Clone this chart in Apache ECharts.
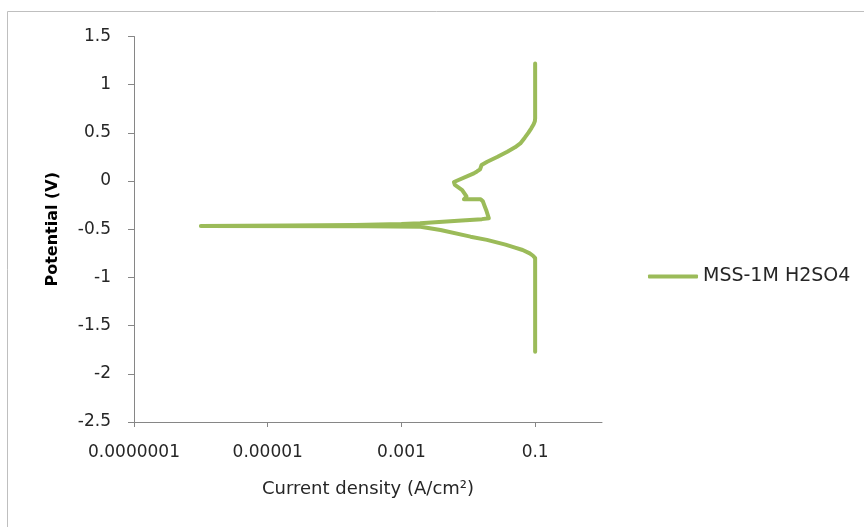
<!DOCTYPE html>
<html>
<head>
<meta charset="utf-8">
<style>
  html, body { margin: 0; padding: 0; background: #fff; }
  #chart { width: 864px; height: 527px; }
</style>
<script src="https://cdn.jsdelivr.net/npm/echarts@6/dist/echarts.min.js"></script>
</head>
<body>
<div id="chart"></div>
<script>
// polarization scan (potential in V, current in A/cm2)
const potential = [-1.77, -0.80, -0.79, -0.775, -0.75, -0.715, -0.69, -0.66, -0.61, -0.577,
  -0.508, -0.474, -0.470, -0.466, -0.462, -0.455, -0.446, -0.438, -0.41, -0.395,
  -0.386, -0.37, -0.30, -0.266, -0.21, -0.189, -0.189, -0.16, -0.145, -0.093,
  -0.04, -0.01, 0.01, 0.08, 0.10, 0.122, 0.135, 0.167, 0.201, 0.25,
  0.305, 0.35, 0.39, 0.45, 0.5, 0.55, 0.59, 0.62, 0.65, 1.22]
const current = [0.1, 0.1, 0.099, 0.093, 0.083, 0.065, 0.05, 0.036, 0.019, 0.0108,
  0.00384, 0.00193, 0.0003, 0.000001, 0.00002, 0.0002, 0.001, 0.0019, 0.008, 0.016,
  0.0203, 0.0203, 0.0185, 0.0177, 0.0165, 0.0153, 0.0086, 0.0094, 0.0091, 0.0081,
  0.0063, 0.0061, 0.0065, 0.0121, 0.0135, 0.0150, 0.0155, 0.0158, 0.0192, 0.027,
  0.0383, 0.05, 0.06, 0.07, 0.079, 0.088, 0.095, 0.099, 0.1, 0.1]
const xTicks = [0.0000001, 0.00001, 0.001, 0.1]
const seriesName = 'MSS-1M H2SO4'

const axisColor = '#868686'
const textColor = '#262626'
const lineColor = '#9bbb59'
const font = 'DejaVu Sans'

const chart = echarts.init(document.getElementById('chart'))
chart.setOption({
  backgroundColor: '#fff',
  animation: false,
  graphic: [{
    type: 'rect',
    shape: { x: 7.5, y: 11.5, width: 900, height: 600 },
    style: { fill: 'none', stroke: '#bfbfbf', lineWidth: 1 },
    silent: true
  }],
  grid: {
    left: 134,
    right: 262,
    top: 36.5,
    bottom: 105,
    containLabel: false,
    outerBoundsMode: 'none'
  },
  legend: {
    orient: 'vertical',
    left: 643,
    top: 262,
    itemWidth: 50,
    itemHeight: 4,
    data: [{ name: seriesName, icon: 'roundRect', itemStyle: { color: lineColor } }],
    textStyle: { fontFamily: font, fontSize: 19, color: textColor }
  },
  xAxis: {
    type: 'log',
    logBase: 10,
    min: 1e-7,
    max: 1,
    name: 'Current density (A/cm²)',
    nameLocation: 'middle',
    nameGap: 58,
    nameTextStyle: { fontFamily: font, fontSize: 18, color: textColor },
    axisLine: { show: true, onZero: false, lineStyle: { color: axisColor, width: 1 } },
    axisTick: { show: true, length: 5, customValues: xTicks, lineStyle: { color: axisColor } },
    minorTick: { show: false },
    axisLabel: {
      customValues: xTicks,
      margin: 22,
      fontFamily: font,
      fontSize: 17,
      color: textColor,
      formatter: v => v.toFixed(Math.max(0, -Math.round(Math.log10(v))))
    },
    splitLine: { show: false }
  },
  yAxis: {
    type: 'value',
    min: -2.5,
    max: 1.5,
    interval: 0.5,
    name: 'Potential (V)',
    nameLocation: 'middle',
    nameRotate: 90,
    nameGap: 73,
    nameTextStyle: { fontFamily: font, fontSize: 16, fontWeight: 'bold', color: '#000' },
    axisLine: { show: true, onZero: false, lineStyle: { color: axisColor, width: 1 } },
    axisTick: { show: true, length: 6, lineStyle: { color: axisColor } },
    axisLabel: { margin: 23, fontFamily: font, fontSize: 17, color: textColor },
    splitLine: { show: false }
  },
  series: [{
    name: seriesName,
    type: 'line',
    data: current.map((c, i) => [c, potential[i]]),
    showSymbol: false,
    symbol: 'none',
    lineStyle: { color: lineColor, width: 4, cap: 'round', join: 'round' },
    itemStyle: { color: lineColor }
  }]
})
</script>
</body>
</html>
